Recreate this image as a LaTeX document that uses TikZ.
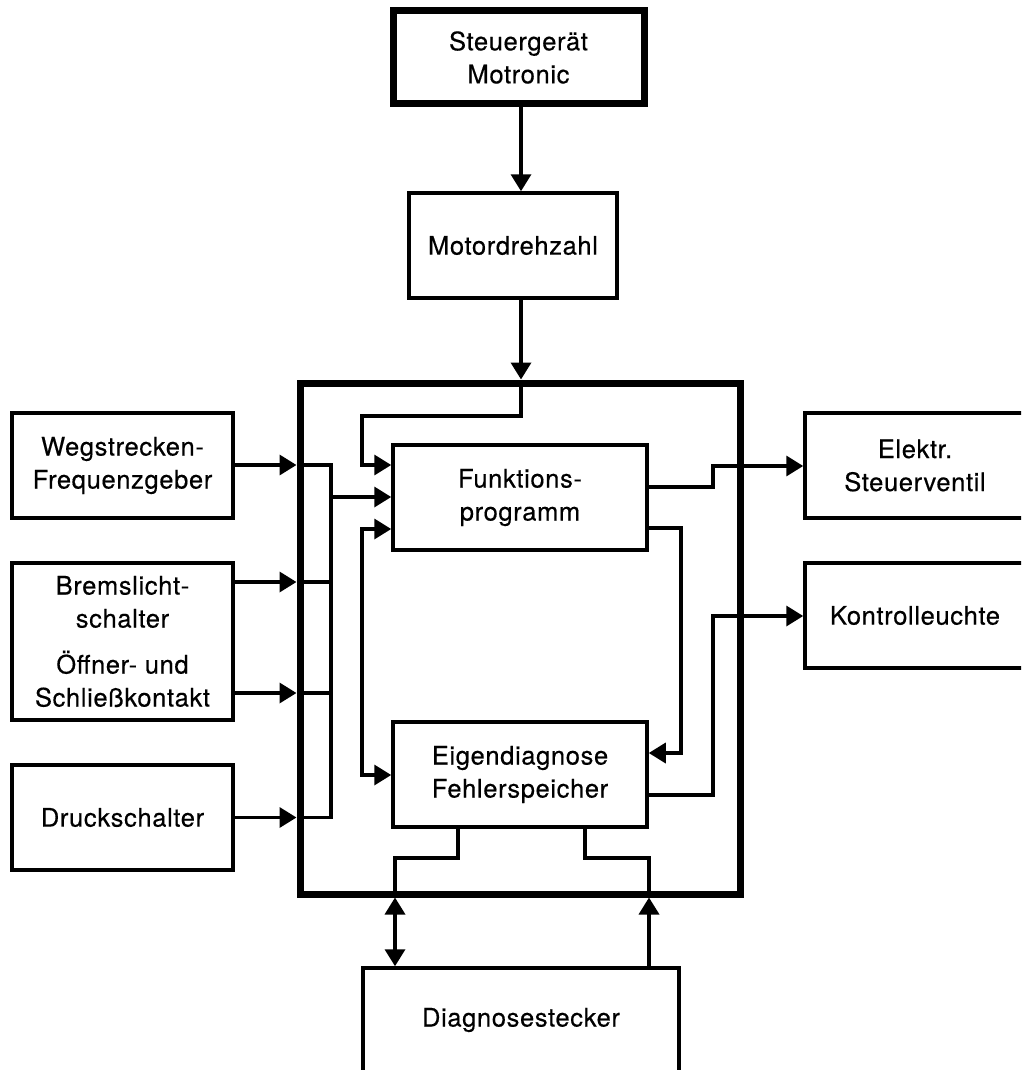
\documentclass[tikz,border=0pt]{standalone}
\usepackage{fontspec}
\setmainfont{TeX Gyre Heros}[LetterSpace=2.5,FakeBold=0.4]
\usetikzlibrary{arrows.meta}
\begin{document}
\begin{tikzpicture}[x=1pt,y=-1pt,
  box/.style={draw, line width=3.5pt, align=center, inner sep=0pt,
    font=\fontsize{25.5}{33}\selectfont},
  conn/.style={line width=3.5pt},
  arr/.style={conn, -{Triangle[length=17pt,width=20pt]}},
  barr/.style={conn, {Triangle[length=17pt,width=20pt]}-{Triangle[length=17pt,width=20pt]}},
]
\useasboundingbox (0,0) rectangle (1021,1070);
\clip (0,0) rectangle (1021,1070);

% nodes
\node[box, line width=7pt, minimum width=251pt, minimum height=93pt] (steuer) at (518.5,57.5) {Steuergerät\\Motronic};
\node[box, minimum width=208pt, minimum height=105pt] (motor) at (513,245.5) {Motordrehzahl};
\node[draw, line width=7pt, minimum width=440pt, minimum height=511pt, inner sep=0pt] (ecu) at (520,638.5) {};
\node[box, minimum width=254pt, minimum height=105pt] (fp) at (520,497.5) {Funktions-\\programm};
\node[box, minimum width=254pt, minimum height=105pt] (ed) at (520,774.5) {Eigendiagnose\\Fehlerspeicher};
\node[box, minimum width=316pt, minimum height=104pt] (ds) at (521,1020) {Diagnosestecker};
\node[box, minimum width=221pt, minimum height=105pt] (weg) at (122.5,465.5) {Wegstrecken-\\Frequenzgeber};
\node[box, minimum width=221pt, minimum height=157pt] (brems) at (122.5,641.5) {Bremslicht-\\schalter\\[13pt]Öffner- und\\Schließkontakt};
\node[box, minimum width=221pt, minimum height=105pt] (druck) at (122.5,817.5) {Druckschalter};
\node[box, minimum width=220pt, minimum height=105pt] (elek) at (915,465.5) {Elektr.\\Steuerventil};
\node[box, minimum width=220pt, minimum height=105pt] (kon) at (915,615.5) {Kontrolleuchte};

% helper coordinates
\coordinate (xA) at (521,0);
\coordinate (xBus) at (331,0);
\coordinate (xL) at (362,0);
\coordinate (xR1) at (713,0);
\coordinate (xR2) at (681,0);
\coordinate (xD1) at (458,0);
\coordinate (xD2) at (395,0);
\coordinate (xD3) at (585,0);
\coordinate (xD4) at (649,0);
\coordinate (yTop) at (0,416);
\coordinate (yW) at (0,465);
\coordinate (yF2) at (0,497);
\coordinate (yF3) at (0,529);
\coordinate (yB1) at (0,582);
\coordinate (yB2) at (0,693);
\coordinate (yE) at (0,775);
\coordinate (yO1) at (0,487);
\coordinate (yO2) at (0,466);
\coordinate (yO3) at (0,528);
\coordinate (yO4) at (0,753);
\coordinate (yO5) at (0,795);
\coordinate (yK) at (0,616);
\coordinate (yJ) at (0,858);

% top chain
\draw[arr] (steuer.south -| xA) -- (motor.north -| xA);
\draw[arr] (motor.south -| xA) -- (ecu.north -| xA);
\draw[arr] (ecu.north -| xA) |- (xL |- yTop) -- (xL |- yW) -- (fp.west |- yW);

% left inputs
\draw[arr] (weg.east |- yW) -- (ecu.west |- yW);
\draw[arr] (brems.east |- yB1) -- (ecu.west |- yB1);
\draw[arr] (brems.east |- yB2) -- (ecu.west |- yB2);
\draw[arr] (druck.east) -- (ecu.west |- druck.east);
\draw[conn] (ecu.west |- yW) -- (xBus |- yW) -- (xBus |- druck.east) -- (ecu.west |- druck.east);
\draw[conn] (ecu.west |- yB1) -- (xBus |- yB1);
\draw[conn] (ecu.west |- yB2) -- (xBus |- yB2);
\draw[arr] (xBus |- yF2) -- (fp.west |- yF2);
\draw[barr] (fp.west |- yF3) -- (xL |- yF3) -- (xL |- yE) -- (ed.west |- yE);

% right outputs
\draw[arr] (fp.east |- yO1) -| (xR1 |- yO2) -- (elek.west |- yO2);
\draw[arr] (fp.east |- yO3) -| (xR2 |- yO4) -- (ed.east |- yO4);
\draw[arr] (ed.east |- yO5) -| (xR1 |- yK) -- (kon.west |- yK);

% bottom to diagnosis plug
\draw[conn] (ed.south -| xD1) |- (xD2 |- yJ) -- (xD2 |- ecu.south);
\draw[barr] (xD2 |- ecu.south) -- (ds.north -| xD2);
\draw[arr] (ds.north -| xD4) -- (xD4 |- ecu.south);
\draw[conn] (xD4 |- ecu.south) |- (xD3 |- yJ) -- (ed.south -| xD3);
\end{tikzpicture}
\end{document}
